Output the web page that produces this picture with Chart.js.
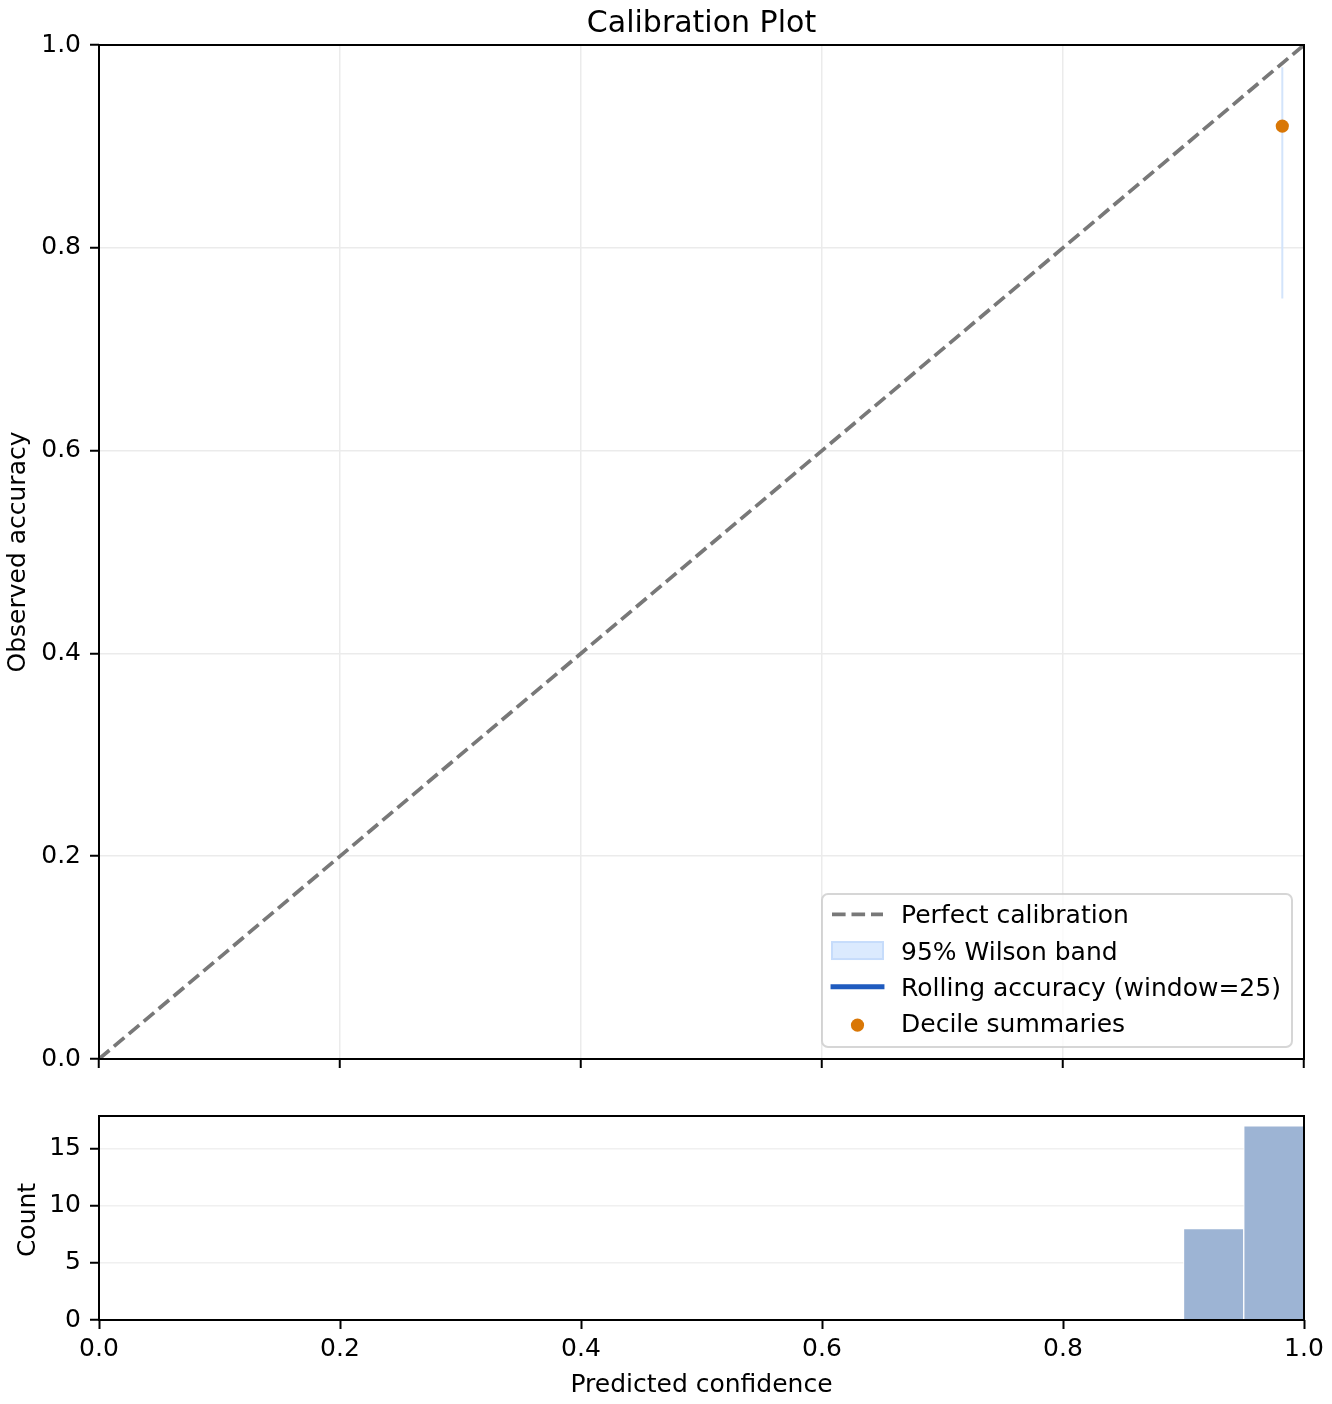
<!DOCTYPE html>
<html><head><meta charset="utf-8">
<script src="https://cdn.jsdelivr.net/npm/chart.js@4.4.1/dist/chart.umd.min.js"></script>
<style>
html,body{margin:0;padding:0;background:#fff;}
body{width:1332px;height:1404px;overflow:hidden;position:relative;}
canvas{position:absolute;left:0;}
</style></head><body>
<canvas id="main" width="1332" height="1090" style="top:0px"></canvas>
<canvas id="hist" width="1332" height="314" style="top:1090px"></canvas>
<script>
// ---- data ----
const titleText = 'Calibration Plot';
const xLabel = 'Predicted confidence';
const yLabelMain = 'Observed accuracy';
const yLabelHist = 'Count';
const axisTicks = [0, 0.2, 0.4, 0.6, 0.8, 1.0];
const countTicks = [0, 5, 10, 15];
const diagX = [0, 1];
const diagY = [0, 1];
const bandConf = [0.982];
const bandLow = [0.750];
const bandHigh = [0.978];
const rollingConf = [0.982];
const rollingAcc = [0.92];
const decileConf = [0.982];
const decileAcc = [0.92];
const binCenters = [0.925, 0.975];
const binCounts = [8, 17];
const countMax = 17.85;
const legendLabels = ['Perfect calibration', '95% Wilson band', 'Rolling accuracy (window=25)', 'Decile summaries'];

// ---- styling ----
const FONT = "'DejaVu Sans', 'Liberation Sans', sans-serif";
const FS = 25;
Chart.defaults.font.family = FONT;
Chart.defaults.color = '#000';
const gridMain = '#ebebeb';
const gridHist = '#f0f0f0';
const cDiag = '#787878', cBandEdge = '#d3e4fb', cBandFill = '#dbeafe', cRoll = '#1f5bbf', cDot = '#d97706', cBar = '#9db4d4';

function fixedTicks(vals) { return s => { s.ticks = vals.map(v => ({ value: v })); }; }

const framePlugin = {
  id: 'frame',
  afterDatasetsDraw(chart) {
    const { ctx, chartArea: a } = chart;
    ctx.save();
    ctx.strokeStyle = '#000'; ctx.lineWidth = 2;
    ctx.strokeRect(a.left, a.top, a.right - a.left, a.bottom - a.top);
    ctx.restore();
  }
};

function drawRotated(ctx, text, x, y) {
  ctx.save();
  ctx.translate(x, y); ctx.rotate(-Math.PI / 2);
  ctx.textAlign = 'center'; ctx.textBaseline = 'alphabetic';
  ctx.fillText(text, 0, 0);
  ctx.restore();
}

const mainTextPlugin = {
  id: 'mainText',
  afterDraw(chart) {
    const { ctx, chartArea: a } = chart;
    ctx.save();
    ctx.fillStyle = '#000';
    ctx.font = (FS * 1.2) + 'px ' + FONT;
    ctx.textAlign = 'center'; ctx.textBaseline = 'alphabetic';
    ctx.fillText(titleText, (a.left + a.right) / 2, 32);
    ctx.font = FS + 'px ' + FONT;
    drawRotated(ctx, yLabelMain, 25, (a.top + a.bottom) / 2);
    // legend
    const bx = 822, by = 894, bw = 470, bh = 153, r = 6;
    ctx.beginPath();
    ctx.roundRect(bx, by, bw, bh, r);
    ctx.fillStyle = 'rgba(255,255,255,0.8)'; ctx.fill();
    ctx.strokeStyle = 'rgba(204,204,204,0.8)'; ctx.lineWidth = 2; ctx.stroke();
    const hx0 = 832, hx1 = 883, tx = 901;
    legendLabels.forEach((lab, i) => {
      const base = 923.3 + i * 36.25;
      const cy = base - 9;
      ctx.save();
      if (i === 0) {
        ctx.strokeStyle = cDiag; ctx.lineWidth = 3.7; ctx.setLineDash([13.6, 5.9]);
        ctx.beginPath(); ctx.moveTo(hx0, cy); ctx.lineTo(hx1, cy); ctx.stroke();
      } else if (i === 1) {
        ctx.fillStyle = cBandFill; ctx.fillRect(hx0, cy - 8.5, hx1 - hx0, 17);
        ctx.strokeStyle = '#c6dcfb'; ctx.lineWidth = 2; ctx.strokeRect(hx0, cy - 8.5, hx1 - hx0, 17);
      } else if (i === 2) {
        ctx.strokeStyle = cRoll; ctx.lineWidth = 4.9; ctx.lineCap = 'square';
        ctx.beginPath(); ctx.moveTo(hx0 + 1, cy); ctx.lineTo(hx1 - 1, cy); ctx.stroke();
      } else {
        ctx.fillStyle = cDot; ctx.beginPath(); ctx.arc((hx0 + hx1) / 2, cy + 2, 6.6, 0, Math.PI * 2); ctx.fill();
      }
      ctx.restore();
      ctx.fillStyle = '#000'; ctx.textAlign = 'left'; ctx.textBaseline = 'alphabetic';
      ctx.font = FS + 'px ' + FONT;
      ctx.fillText(lab, tx, base);
    });
    ctx.restore();
  }
};

const histTextPlugin = {
  id: 'histText',
  afterDraw(chart) {
    const { ctx, chartArea: a } = chart;
    ctx.save();
    ctx.fillStyle = '#000';
    ctx.font = FS + 'px ' + FONT;
    ctx.textAlign = 'center'; ctx.textBaseline = 'alphabetic';
    ctx.fillText(xLabel, (a.left + a.right) / 2, 301.5);
    drawRotated(ctx, yLabelHist, 35, (a.top + a.bottom) / 2 + 2);
    ctx.restore();
  }
};

const pts = (xs, ys) => xs.map((x, i) => ({ x, y: ys[i] }));

new Chart(document.getElementById('main'), {
  type: 'scatter',
  data: {
    datasets: [
      { label: legendLabels[3], data: pts(decileConf, decileAcc), pointRadius: 6.6, pointHoverRadius: 6.6,
        backgroundColor: cDot, borderWidth: 0, order: 0 },
      { label: legendLabels[2], data: pts(rollingConf, rollingAcc), showLine: true, borderColor: cRoll,
        borderWidth: 4.9, pointRadius: 0, order: 1 },
      { label: legendLabels[0], data: pts(diagX, diagY), showLine: true, borderColor: cDiag, borderWidth: 3.7,
        borderDash: [13.6, 5.9], pointRadius: 0, order: 2 },
      { label: legendLabels[1], data: pts(bandConf, bandHigh).concat(pts(bandConf, bandLow).reverse()),
        showLine: true, borderColor: cBandEdge, borderWidth: 2, pointRadius: 0, order: 3 }
    ]
  },
  options: {
    responsive: false, animation: false, devicePixelRatio: 1,
    layout: { padding: { top: 45, right: 28, bottom: 11, left: 0 } },
    plugins: { legend: { display: false }, tooltip: { enabled: false }, title: { display: false } },
    scales: {
      x: { type: 'linear', min: 0, max: 1, afterBuildTicks: fixedTicks(axisTicks), afterFit: s => { s.height = 20; },
        ticks: { display: false },
        grid: { color: gridMain, lineWidth: 1.5, drawTicks: true, tickLength: 9, tickColor: '#000', tickWidth: 2 },
        border: { display: false } },
      y: { type: 'linear', min: 0, max: 1, afterBuildTicks: fixedTicks(axisTicks), afterFit: s => { s.width = 99; },
        ticks: { font: { size: FS }, color: '#000', padding: 9, callback: v => v.toFixed(1) },
        grid: { color: gridMain, lineWidth: 1.5, drawTicks: true, tickLength: 9, tickColor: '#000', tickWidth: 2 },
        border: { display: false } }
    }
  },
  plugins: [framePlugin, mainTextPlugin]
});

new Chart(document.getElementById('hist'), {
  type: 'bar',
  data: {
    datasets: [{ label: 'Count', data: pts(binCenters, binCounts), backgroundColor: cBar,
      borderColor: '#ffffff', borderWidth: 1, barPercentage: 1, categoryPercentage: 1 }]
  },
  options: {
    responsive: false, animation: false, devicePixelRatio: 1,
    layout: { padding: { top: 26, right: 28, bottom: 0, left: 0 } },
    plugins: { legend: { display: false }, tooltip: { enabled: false } },
    scales: {
      x: { type: 'linear', min: 0, max: 1, offset: false, afterBuildTicks: fixedTicks(axisTicks), afterFit: s => { s.height = 84; },
        ticks: { font: { size: FS }, color: '#000', padding: 5, maxRotation: 0, callback: v => v.toFixed(1) },
        grid: { offset: false, drawOnChartArea: false, drawTicks: true, tickLength: 9, tickColor: '#000', tickWidth: 2 },
        border: { display: false } },
      y: { type: 'linear', min: 0, max: countMax, afterBuildTicks: fixedTicks(countTicks), afterFit: s => { s.width = 99; },
        ticks: { font: { size: FS }, color: '#000', padding: 9, callback: v => String(v) },
        grid: { color: gridHist, lineWidth: 1.5, drawTicks: true, tickLength: 9, tickColor: '#000', tickWidth: 2 },
        border: { display: false } }
    }
  },
  plugins: [framePlugin, histTextPlugin]
});
</script>
</body></html>
